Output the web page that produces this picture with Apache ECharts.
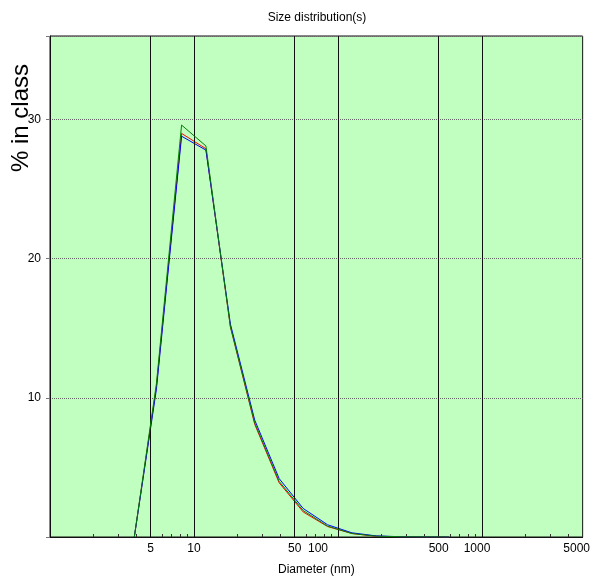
<!DOCTYPE html>
<html>
<head>
<meta charset="utf-8">
<title>Size distribution(s)</title>
<script src="https://cdn.jsdelivr.net/npm/echarts@6/dist/echarts.min.js"></script>
<style>
  html, body { margin: 0; padding: 0; background: #fff; }
  #main { width: 593px; height: 581px; }
</style>
</head>
<body>
<div id="main"></div>
<script>
// diameters (nm) of the points on the curves
var sizes = [3.85, 5.48, 8.2, 12.1, 17.9, 26.4, 39, 57.3, 84.7, 125, 184, 272, 402, 590];
// % in class for the three measurements
var redVals   = [0, 10.8, 29.0, 27.9, 15.1, 8.1, 3.9, 1.8, 0.75, 0.25, 0.05, 0.02, 0.01, 0];
var greenVals = [0, 11.0, 29.6, 28.1, 15.1, 8.2, 4.0, 1.9, 0.78, 0.25, 0.06, 0.02, 0.01, 0];
var blueVals  = [0, 10.6, 28.8, 27.8, 15.3, 8.4, 4.2, 2.05, 0.88, 0.3, 0.08, 0.02, 0.01, 0];

var gridSizes = [5, 10, 50, 100, 500, 1000];        // vertical black lines
var labelSizes = [5, 10, 50, 100, 500, 1000, 5000]; // x tick labels
var tickSizes = [2, 3, 4, 5, 6, 7, 8, 9, 10, 20, 30, 40, 50, 60, 70, 80, 90, 100,
                 200, 300, 400, 500, 600, 700, 800, 900, 1000, 2000, 3000, 4000, 5000];

var font = 'Liberation Sans, Arial, sans-serif';

function pairs(vals) {
    var out = [];
    for (var i = 0; i < sizes.length; i++) {
        out.push([sizes[i], vals[i]]);
    }
    return out;
}

var chart = echarts.init(document.getElementById('main'));

var option = {
    backgroundColor: '#fff',
    animation: false,
    textStyle: { fontFamily: font },
    grid: {
        left: 50, right: 8, top: 36, bottom: 42,
        show: true,
        backgroundColor: '#c0ffc0',
        borderColor: '#111',
        borderWidth: 1
    },
    graphic: [
        {
            type: 'text', x: 317, y: 18,
            style: { text: 'Size distribution(s)', font: '12px ' + font, fill: '#000',
                     align: 'center', verticalAlign: 'middle' }
        },
        {
            type: 'text', x: 21, y: 118, rotation: Math.PI / 2,
            style: { text: '% in class', font: '24px ' + font, fill: '#000',
                     align: 'center', verticalAlign: 'middle' }
        }
    ],
    xAxis: {
        type: 'log',
        logBase: 10,
        min: 1,
        max: 5000,
        name: 'Diameter (nm)',
        nameLocation: 'middle',
        nameGap: 27,
        nameTextStyle: { color: '#000', fontSize: 12, fontFamily: font },
        axisLine: { lineStyle: { color: '#111', width: 1 } },
        axisTick: {
            show: true, inside: true, length: 3,
            customValues: tickSizes,
            lineStyle: { color: '#333' }
        },
        splitLine: { show: false },
        axisLabel: {
            customValues: labelSizes,
            margin: 6,
            color: '#000',
            fontSize: 12,
            fontFamily: font,
            formatter: function (v) {
                if (v === 100) return '{a|100}';
                if (v === 1000) return '{b|1000}';
                if (v === 5000) return '{c|5000}';
                return String(v);
            },
            rich: {
                a: { padding: [0, 40, 0, 0], fontSize: 12, color: '#000' },
                b: { padding: [0, 10, 0, 0], fontSize: 12, color: '#000' },
                c: { padding: [0, 12, 0, 0], fontSize: 12, color: '#000' }
            }
        }
    },
    yAxis: {
        type: 'value',
        min: 0,
        max: 36,
        interval: 10,
        axisLine: { show: true, lineStyle: { color: '#111', width: 1 } },
        axisTick: { show: true, length: 4, lineStyle: { color: '#777' } },
        axisLabel: {
            margin: 9,
            color: '#000',
            fontSize: 12,
            fontFamily: font,
            formatter: function (v) {
                return (v > 0 && v % 10 === 0) ? String(v) : '';
            }
        },
        splitLine: {
            show: true,
            lineStyle: { color: '#666', type: 'dotted', width: 1 }
        }
    },
    series: [
        {
            name: 'red',
            type: 'line',
            data: pairs(redVals),
            symbol: 'none',
            lineStyle: { color: '#ff0000', width: 1 },
            markLine: {
                silent: true,
                symbol: 'none',
                label: { show: false },
                lineStyle: { color: '#111', type: 'solid', width: 1 },
                data: gridSizes.map(function (s) { return { xAxis: s }; })
            },
            z: 3
        },
        {
            name: 'blue',
            type: 'line',
            data: pairs(blueVals),
            symbol: 'none',
            lineStyle: { color: '#0000ff', width: 1 },
            z: 4
        },
        {
            name: 'green',
            type: 'line',
            data: pairs(greenVals),
            symbol: 'none',
            lineStyle: { color: '#008000', width: 1 },
            z: 5
        }
    ]
};

chart.setOption(option);
</script>
</body>
</html>
